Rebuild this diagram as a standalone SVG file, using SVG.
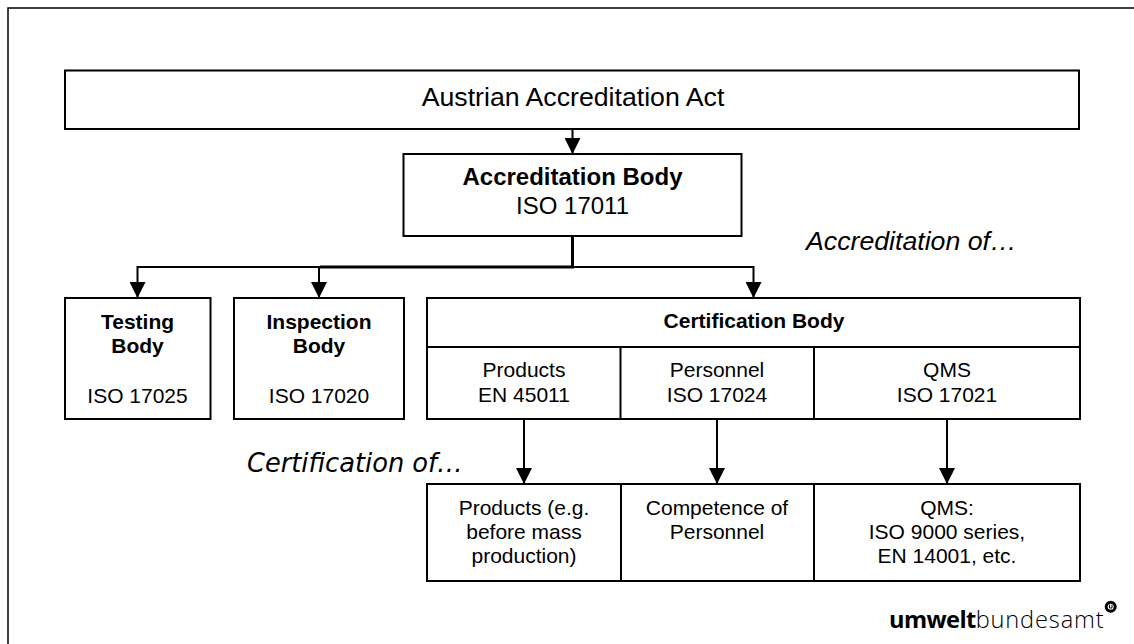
<svg xmlns="http://www.w3.org/2000/svg" width="1134" height="644" viewBox="0 0 1134 644">
<style>
text{font-family:"Liberation Sans",Arial,sans-serif;fill:#000;text-anchor:middle;font-size:21px}
.b{font-weight:bold}
.lg{font-size:24px}
.box{fill:#fff;stroke:#000;stroke-width:2}
.ln{fill:none;stroke:#000;stroke-width:2}
.hv{fill:none;stroke:#000;stroke-width:3}
.it{font-style:italic;text-anchor:start}
</style>
<defs><marker id="a" markerUnits="userSpaceOnUse" markerWidth="16" markerHeight="16" refX="16" refY="8" orient="auto"><path d="M0 0L16 8L0 16z" fill="#000"/></marker></defs>
<rect width="1134" height="644" fill="#fff"/>
<path d="M8 644V8H1134" fill="none" stroke="#000" stroke-width="1.5"/>
<g id="connectors">
<path class="ln" d="M572.5 129V154" marker-end="url(#a)"/>
<path class="hv" d="M572.5 236V267H320"/>
<path class="ln" d="M320 267H137.5V298" marker-end="url(#a)"/>
<path class="ln" d="M319 267V298" marker-end="url(#a)"/>
<path class="ln" d="M572 267H753.5V298" marker-end="url(#a)"/>
<path class="ln" d="M524 419V484" marker-end="url(#a)"/>
<path class="ln" d="M717 419V484" marker-end="url(#a)"/>
<path class="ln" d="M947 419V484" marker-end="url(#a)"/>
</g>
<g id="act"><rect class="box" x="65" y="70.500" width="1014" height="58.500"/><text x="573" y="106" style="font-size:26.700px">Austrian Accreditation Act</text></g>
<g id="accreditation-body"><rect class="box" x="403.500" y="154" width="338" height="82"/><text class="b lg" x="572.500" y="185">Accreditation Body</text><text class="lg" x="572.500" y="214">ISO 17011</text></g>
<text class="it" x="806" y="250" style="font-size:26.700px">Accreditation of…</text>
<g id="testing-body"><rect class="box" x="65" y="298" width="145.500" height="121"/><text class="b" x="137.500" y="329">Testing</text><text class="b" x="137.500" y="353">Body</text><text x="137.500" y="403">ISO 17025</text></g>
<g id="inspection-body"><rect class="box" x="234" y="298" width="170" height="121"/><text class="b" x="319" y="329">Inspection</text><text class="b" x="319" y="353">Body</text><text x="319" y="403">ISO 17020</text></g>
<g id="certification-body">
<rect class="box" x="427" y="298" width="653" height="121"/>
<path class="ln" d="M427 347H1080M620.500 347V419M814 347V419"/>
<text class="b" x="754" y="328">Certification Body</text>
<text x="524" y="377">Products</text><text x="524" y="402">EN 45011</text>
<text x="717" y="377">Personnel</text><text x="717" y="402">ISO 17024</text>
<text x="947" y="377">QMS</text><text x="947" y="402">ISO 17021</text>
</g>
<text class="it" x="247" y="472" style="font-family:'DejaVu Sans',sans-serif;font-size:25.700px">Certification of…</text>
<g id="certification-targets">
<rect class="box" x="427" y="484" width="653" height="97"/>
<path class="ln" d="M621 484V581M814 484V581"/>
<text x="524" y="515">Products (e.g.</text><text x="524" y="539">before mass</text><text x="524" y="563">production)</text>
<text x="717" y="515">Competence of</text><text x="717" y="539">Personnel</text>
<text x="947" y="515">QMS:</text><text x="947" y="539">ISO 9000 series,</text><text x="947" y="563">EN 14001, etc.</text>
</g>
<g id="logo">
<text x="889" y="628" style="text-anchor:start;font-size:23.600px;font-family:'Open Sans',sans-serif;font-weight:300;letter-spacing:0.850px"><tspan font-weight="700" letter-spacing="-0.600">umwelt</tspan>bundesamt</text>
<circle cx="1110.700" cy="606.700" r="4.500" fill="none" stroke="#000" stroke-width="3"/>
<path d="M1109.500 604.500V608H1112V604.500" fill="none" stroke="#000" stroke-width="1"/>
</g>
</svg>
